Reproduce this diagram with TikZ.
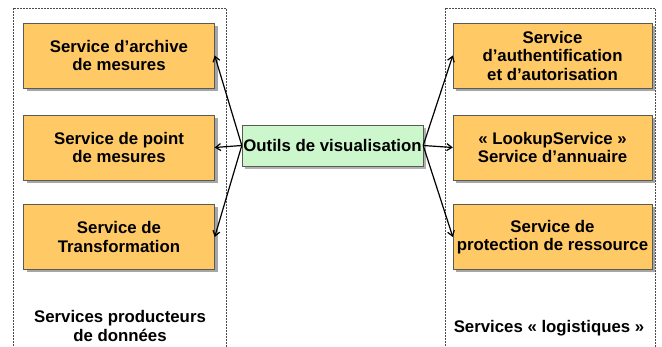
\documentclass[tikz,border=0pt]{standalone}
\usepackage{fontspec}
\setmainfont{Liberation Sans}
\usepackage{tikz}
\usetikzlibrary{arrows.meta,shadows}

\definecolor{orangeservice}{HTML}{FFC966}
\definecolor{vertoutil}{HTML}{CCF7CC}
\definecolor{bordure}{HTML}{5A5A50}

\tikzset{
	service/.style={draw=bordure, fill=orangeservice, minimum height=65pt,
		align=center, inner sep=0pt,
		drop shadow={shadow xshift=3pt, shadow yshift=-3pt, fill=black!35, opacity=1}},
	outil/.style={draw=bordure, fill=vertoutil, minimum width=181pt, minimum height=41pt,
		inner sep=0pt,
		drop shadow={shadow xshift=3pt, shadow yshift=-3pt, fill=black!30, opacity=1}},
	groupe/.style={draw=black!70, line width=0.6pt, dash pattern=on 1.6pt off 1.4pt},
	fleche/.style={-{Straight Barb[length=5pt,width=7pt]}, line width=1.2pt, black}
}

\begin{document}
\begin{tikzpicture}[x=1pt, y=-1pt, font=\bfseries\fontsize{16.8}{18.5}\selectfont]
			\useasboundingbox (0,0) rectangle (662,347);
			% les deux groupes de services
			\draw[groupe] (13,352) -- (13,8) -- (226,8) -- (226,352);
			\draw[groupe] (445,352) -- (445,8) -- (655,8) -- (655,352);
			% services producteurs (gauche)
			\node[service, minimum width=191pt] (archive) at (119,55.5) {Service d'archive\\de mesures};
			\node[service, minimum width=191pt] (point) at (119,147.5) {Service de point\\de mesures};
			\node[service, minimum width=191pt] (transfo) at (119,237) {Service de\\Transformation};
			% services logistiques (droite)
			\node[service, minimum width=199pt] (auth) at (552.5,55.5) {Service\\d'authentification\\et d'autorisation};
			\node[service, minimum width=199pt] (annuaire) at (552.5,147.5) {« LookupService »\\Service d'annuaire};
			\node[service, minimum width=199pt] (protection) at (552.5,237) {Service de\\protection de ressource};
			% outil central
			\node[outil] (visu) at (332.5,145.5) {Outils de visualisation};
			% liens
			\draw[fleche] (visu.west) -- (archive.east);
			\draw[fleche] (visu.west) -- (point.east);
			\draw[fleche] (visu.west) -- (transfo.east);
			\draw[fleche] (visu.east) -- (auth.west);
			\draw[fleche] (visu.east) -- (annuaire.west);
			\draw[fleche] (visu.east) -- (protection.west);
			% titres des groupes
			\node[align=center] (producteurs) at (120,326) {Services producteurs\\de données};
			\node (logistiques) at (549,328) {Services « logistiques »};
\end{tikzpicture}
\end{document}
